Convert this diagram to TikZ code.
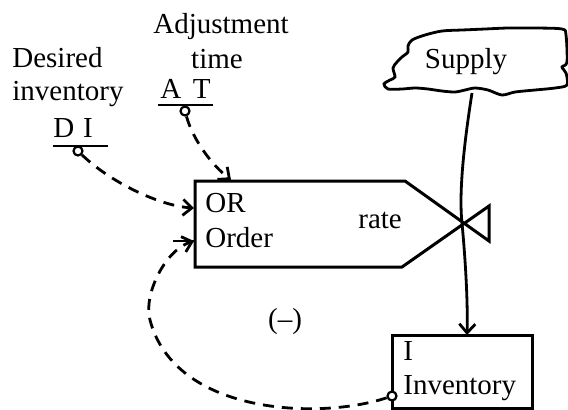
\documentclass[tikz,border=0pt]{standalone}
\usepackage{fontspec}
\setmainfont{Liberation Serif}
\usetikzlibrary{arrows.meta,positioning}

\begin{document}
\begin{tikzpicture}[
    x=0.5pt, y=-0.5pt,
    >={Straight Barb[length=4.5pt,width=8pt]},
    every node/.style={font=\fontsize{14.5}{17}\selectfont, inner sep=0pt},
    link/.style={line width=1.4pt},
    info/.style={line width=1.4pt, dash pattern=on 5.5pt off 4pt},
    tap/.style={draw, circle, line width=1.1pt, minimum size=4.5pt, fill=white},
    stock/.style={draw, rectangle, line width=1.5pt, minimum width=70pt, minimum height=36.5pt}
]

% Marco
\useasboundingbox (0,0) rectangle (568,409);

% Constantes
\node[anchor=base west] (adj) at (153,33) {Adjustment};
\node[anchor=base] (time) at (217,68) {time};
\node[anchor=base west] (at) at (160,98) {A\hspace{0.4em}T};
\node[anchor=base west] (des) at (12,67) {Desired};
\node[anchor=base west] (dinv) at (12,100) {inventory};
\node[anchor=base west] (di) at (53,137) {D\hspace{0.3em}I};

% Subrayados
\draw[link] (158,105) -- (213,105);
\draw[link] (53,146) -- (108,146);

% Tomas
\node[tap] (attap) at (185,111) {};
\node[tap] (ditap) at (78,151) {};

% Tasa de pedido
\coordinate (oTL) at (195,181);
\coordinate (oTR) at (405,181);
\coordinate (valve) at (462,223);
\coordinate (oBR) at (402,267);
\coordinate (oBL) at (195,267);
\coordinate (vT) at (489,206);
\coordinate (vB) at (489,241);
\draw[line width=1.5pt] (oTL) -- (oTR) -- (vB) -- (vT) -- (oBR) -- (oBL) -- cycle;
\node[anchor=base west] (or) at (205,212) {OR};
\node[anchor=base west] (order) at (205,247) {Order};
\node[anchor=base west] (rate) at (358,228) {rate};

% Fuente
\draw[line width=1.4pt] plot[smooth cycle, tension=0.5] coordinates {
    (412,40) (425,35) (442,31) (462,30) (485,29) (508,28) (535,28) (562,29)
    (566,35) (567,62) (562,67) (566,73) (567,85) (555,88) (535,90) (515,92)
    (502,95) (488,90) (475,88) (465,90) (455,92) (442,91) (428,89) (415,88)
    (402,89) (388,89) (384,84) (390,80) (395,77) (393,68) (397,62) (402,57)
    (408,52) (408,46)};
\node[anchor=base] (supply) at (466,68) {Supply};
\coordinate (cloudB) at (472,93);

% Nivel
\node[stock] (inv) at (462,371.5) {};
\node[anchor=base west] (ilbl) at (403,360) {I};
\node[anchor=base west] (iname) at (403,394) {Inventory};
\node[tap] (invtap) at (392,396) {};
\coordinate (invIn) at (467,335);

% Flujo
\draw[link, ->] (cloudB) .. controls (463,150) and (459,195) .. (valve)
    .. controls (465,255) and (468,300) .. (invIn);

% Informacion
\coordinate (orA) at (194,208);
\coordinate (orT) at (231,180);
\coordinate (orB) at (194,241);
\coordinate (stub) at (173,241);
\draw[info, ->] (ditap) .. controls (110,182) and (160,206) .. (orA);
\draw[info, ->] (attap) .. controls (193,140) and (212,165) .. (orT);
\draw[info, ->] (invtap) .. controls (320,420) and (175,415) .. (150,320)
    .. controls (143,295) and (165,250) .. (orB);
\draw[link] (stub) -- (orB);

% Signo del lazo
\node (sign) at (285,322) {(–)};

\end{tikzpicture}
\end{document}
